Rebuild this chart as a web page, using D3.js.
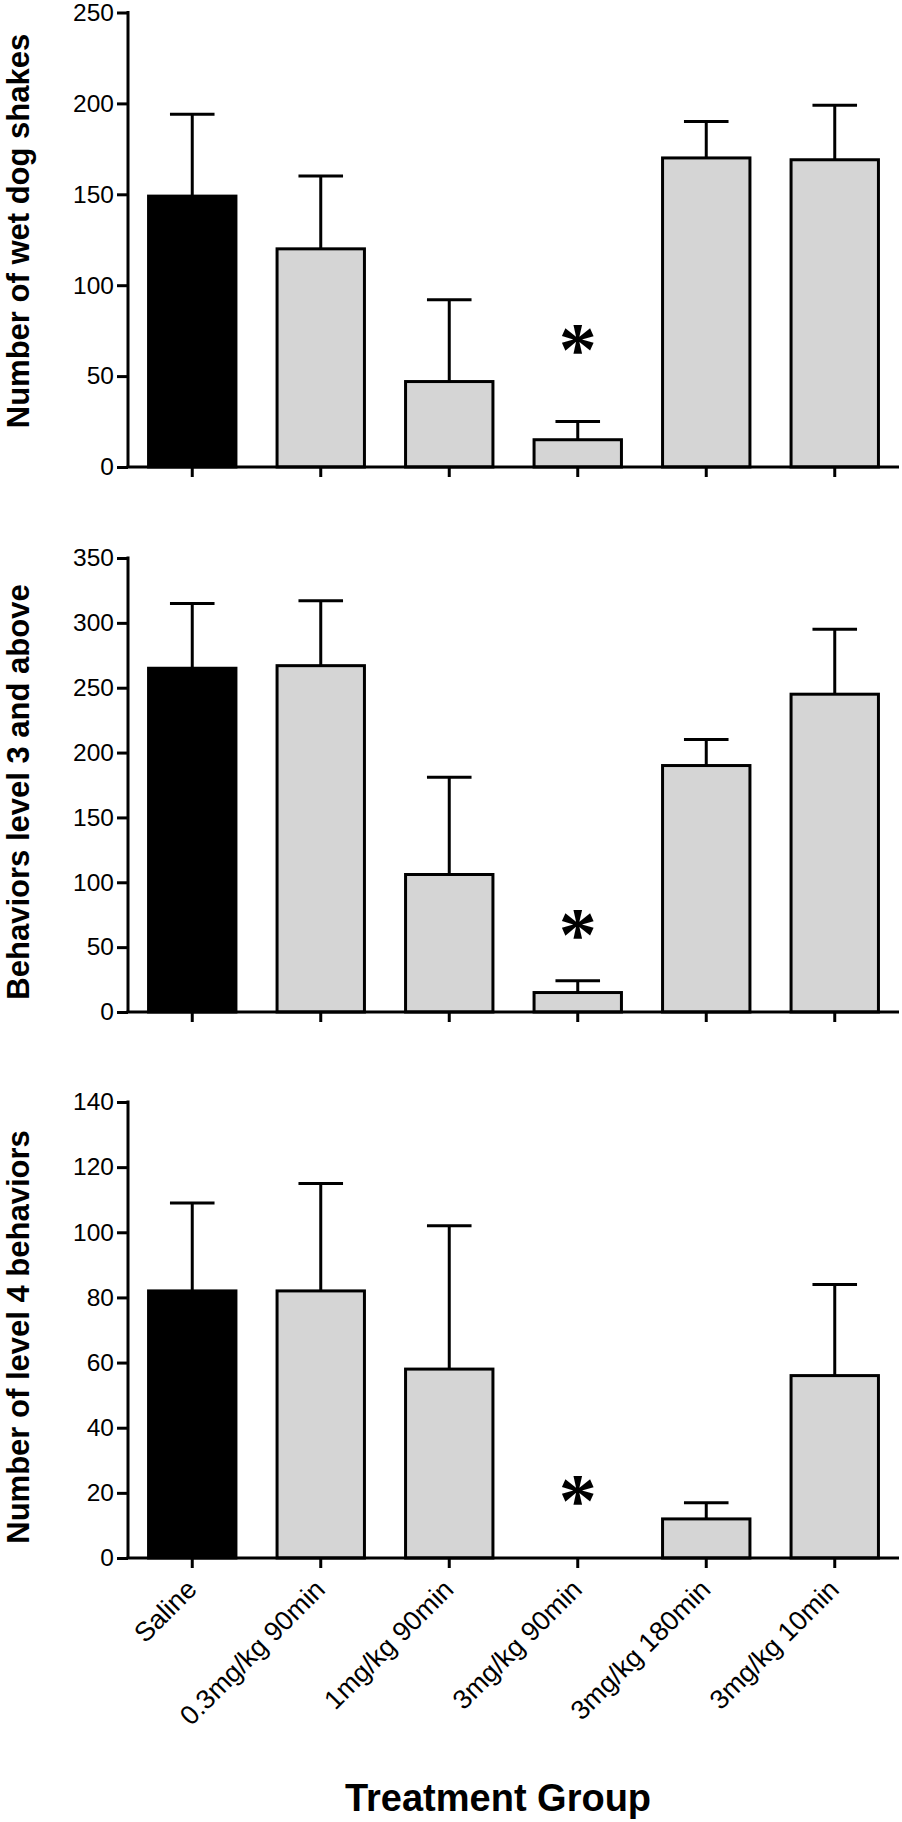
<!DOCTYPE html>
<html>
<head>
<meta charset="utf-8">
<script src="https://cdn.jsdelivr.net/npm/d3@7"></script>
<style>
  html, body { margin: 0; padding: 0; background: #fff; }
  svg { display: block; }
</style>
</head>
<body>
<script>
// ---- data ----
const groups = ["Saline", "0.3mg/kg 90min", "1mg/kg 90min", "3mg/kg 90min", "3mg/kg 180min", "3mg/kg 10min"];

const wetDogMeans = [149, 120, 47, 15, 170, 169];
const wetDogErrTop = [194, 160, 92, 25, 190, 199];

const level3Means = [265, 267, 106, 15, 190, 245];
const level3ErrTop = [315, 317, 181, 24, 210, 295];

const level4Means = [82, 82, 58, 0, 12, 56];
const level4ErrTop = [109, 115, 102, null, 17, 84];

const wetDogTicks = [0, 50, 100, 150, 200, 250];
const level3Ticks = [0, 50, 100, 150, 200, 250, 300, 350];
const level4Ticks = [0, 20, 40, 60, 80, 100, 120, 140];

const yTitles = ["Number of wet dog shakes", "Behaviors level 3 and above", "Number of level 4 behaviors"];
const xTitle = "Treatment Group";

const sigGroup = "3mg/kg 90min";
const sigMarkValue = [68, 65, 19.5]; // height (data units) of the * in each panel

// ---- layout ----
const W = 902, H = 1822;
const xLeft = 128, xRight = 899;
const panels = [
  { means: wetDogMeans, err: wetDogErrTop, ticks: wetDogTicks, max: 250, top: 12.5, bottom: 467, title: yTitles[0], titleY: 231, sig: sigMarkValue[0] },
  { means: level3Means, err: level3ErrTop, ticks: level3Ticks, max: 350, top: 558, bottom: 1012, title: yTitles[1], titleY: 792, sig: sigMarkValue[1] },
  { means: level4Means, err: level4ErrTop, ticks: level4Ticks, max: 140, top: 1102, bottom: 1558, title: yTitles[2], titleY: 1337, sig: sigMarkValue[2] }
];

const svg = d3.select("body").append("svg")
  .attr("width", W).attr("height", H)
  .style("font-family", "'Liberation Sans', Arial, Helvetica, sans-serif");

const x = d3.scaleBand().domain(groups).range([xLeft, xRight]).paddingInner(0.32).paddingOuter(0.16);
const bw = x.bandwidth();
const capW = bw * 0.51;
const SW = 3;

panels.forEach((p, pi) => {
  const y = d3.scaleLinear().domain([0, p.max]).range([p.bottom, p.top]);
  const g = svg.append("g");

  // bars
  g.selectAll("rect.bar").data(groups).enter().append("rect")
    .attr("class", "bar")
    .attr("x", d => x(d))
    .attr("width", bw)
    .attr("y", (d, i) => y(p.means[i]))
    .attr("height", (d, i) => y(0) - y(p.means[i]))
    .attr("fill", (d, i) => i === 0 ? "#000" : "#d5d5d5")
    .attr("stroke", "#000")
    .attr("stroke-width", (d, i) => p.means[i] > 0 ? SW : 0);

  // error bars (upper only)
  const errData = groups.map((d, i) => ({ g: d, m: p.means[i], e: p.err[i] })).filter(d => d.e != null);
  g.selectAll("line.err").data(errData).enter().append("line")
    .attr("x1", d => x(d.g) + bw / 2).attr("x2", d => x(d.g) + bw / 2)
    .attr("y1", d => y(d.m)).attr("y2", d => y(d.e))
    .attr("stroke", "#000").attr("stroke-width", SW);
  g.selectAll("line.cap").data(errData).enter().append("line")
    .attr("x1", d => x(d.g) + bw / 2 - capW / 2).attr("x2", d => x(d.g) + bw / 2 + capW / 2)
    .attr("y1", d => y(d.e)).attr("y2", d => y(d.e))
    .attr("stroke", "#000").attr("stroke-width", SW);

  // significance asterisk
  g.append("text")
    .attr("x", x(sigGroup) + bw / 2)
    .attr("y", y(p.sig))
    .attr("text-anchor", "middle")
    .attr("dy", "0.42em")
    .style("font-family", "'Liberation Serif', 'Times New Roman', serif")
    .style("font-weight", "bold")
    .style("font-size", "76px")
    .text("*");

  // y axis
  const ya = g.append("g").attr("transform", `translate(${xLeft},0)`)
    .call(d3.axisLeft(y).tickValues(p.ticks).tickSize(11).tickSizeOuter(0).tickPadding(3).tickFormat(d3.format("d")));
  ya.selectAll("path, line").attr("stroke", "#000").attr("stroke-width", SW);
  ya.select("path.domain").attr("d", `M0,${p.top - 1.5}V${p.bottom}`);
  ya.selectAll("text").style("font-size", "24.5px").attr("fill", "#000").style("font-family", "'Liberation Sans', Arial, sans-serif");

  // x axis
  const xa = g.append("g").attr("transform", `translate(0,${p.bottom})`)
    .call(d3.axisBottom(x).tickSize(10).tickSizeOuter(0));
  xa.selectAll("path, line").attr("stroke", "#000").attr("stroke-width", SW);
  xa.select("path.domain").attr("d", `M${xLeft - 1.5},0H${xRight}`);
  if (pi < panels.length - 1) {
    xa.selectAll("text").remove();
  } else {
    xa.selectAll("text")
      .attr("text-anchor", "end")
      .attr("x", null).attr("y", null).attr("dy", null)
      .attr("transform", "translate(6,33) rotate(-45)")
      .style("font-size", "27px")
      .style("font-family", "'Liberation Sans', Arial, sans-serif")
      .attr("fill", "#000");
  }

  // y title
  svg.append("text")
    .attr("transform", `translate(29,${p.titleY}) rotate(-90)`)
    .attr("text-anchor", "middle")
    .style("font-size", "31px")
    .style("font-weight", "bold")
    .text(p.title);
});

// x title
svg.append("text")
  .attr("x", 498).attr("y", 1811)
  .attr("text-anchor", "middle")
  .style("font-size", "38px")
  .style("font-weight", "bold")
  .text(xTitle);
</script>
</body>
</html>
